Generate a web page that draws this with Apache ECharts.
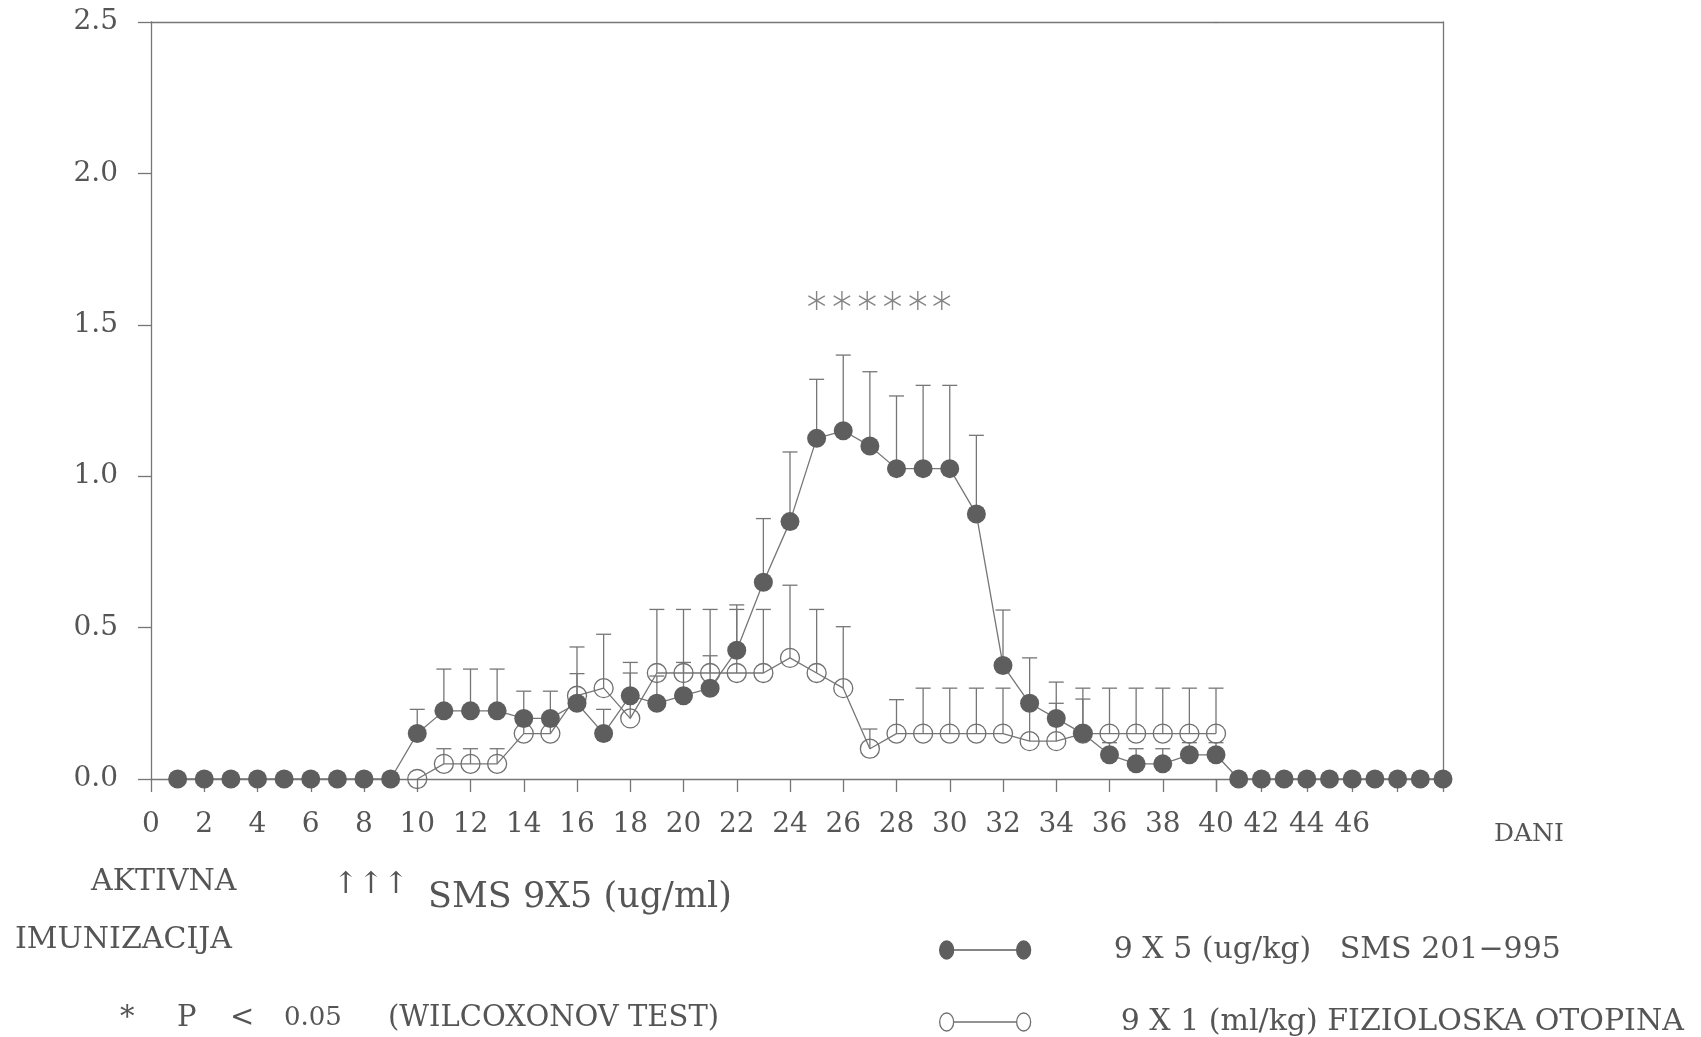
<!DOCTYPE html>
<html><head><meta charset="utf-8">
<script src="https://cdn.jsdelivr.net/npm/echarts@6/dist/echarts.min.js"></script>
<style>html,body{margin:0;padding:0;background:#fff}#c{width:1701px;height:1037px}</style>
</head><body><div id="c"></div>
<script>
// ---- data ----
const smsDays = [1,2,3,4,5,6,7,8,9,10,11,12,13,14,15,16,17,18,19,20,21,22,23,24,25,26,27,28,29,30,31,32,33,34,35,36,37,38,39,40,41,42,43,44,45,46,47,48,49,50];
const smsMean = [0,0,0,0,0,0,0,0,0,0.15,0.225,0.225,0.225,0.2,0.2,0.25,0.15,0.275,0.25,0.275,0.3,0.425,0.65,0.85,1.125,1.15,1.1,1.025,1.025,1.025,0.875,0.375,0.25,0.2,0.15,0.08,0.05,0.05,0.08,0.08,0,0,0,0,0,0,0,0,0,0];
const smsUpper = [null,null,null,null,null,null,null,null,null,0.23,0.363,0.363,0.363,0.29,0.29,0.436,0.23,0.385,0.34,0.385,0.407,0.575,0.86,1.08,1.32,1.40,1.345,1.265,1.30,1.30,1.135,0.558,0.40,0.32,0.264,0.12,0.10,0.10,0.12,0.12,null,null,null,null,null,null,null,null,null,null];
const salDays = [10,11,12,13,14,15,16,17,18,19,20,21,22,23,24,25,26,27,28,29,30,31,32,33,34,35,36,37,38,39,40];
const salMean = [0,0.05,0.05,0.05,0.15,0.15,0.275,0.3,0.2,0.35,0.35,0.35,0.35,0.35,0.4,0.35,0.3,0.1,0.15,0.15,0.15,0.15,0.15,0.125,0.125,0.15,0.15,0.15,0.15,0.15,0.15];
const salUpper = [null,0.1,0.1,0.1,0.2,0.2,0.348,0.478,0.35,0.56,0.56,0.56,0.56,0.56,0.64,0.56,0.503,0.165,0.262,0.30,0.30,0.30,0.30,0.25,0.25,0.30,0.30,0.30,0.30,0.30,0.30];
const starDays = [25,25.95,26.9,27.85,28.8,29.7];
const starLevel = 1.58;
const yTickValues = [0,0.5,1.0,1.5,2.0,2.5];
const smsName = '9 X 5 (ug/kg)   SMS 201\u2212995';
const salName = '9 X 1 (ml/kg) FIZIOLOSKA OTOPINA';

// ---- build series data ----
const FONT = 'DejaVu Serif';
const TXT = '#555';
const LN = '#767676';
const smsA = [], smsB = [], salData = [], errData = [];
smsDays.forEach((d, i) => {
  if (d <= 40) smsA.push([d, smsMean[i]]);
  if (d >= 40) smsB.push([d, smsMean[i]]);
  if (smsUpper[i] != null) errData.push([d, smsMean[i], smsUpper[i]]);
});
salDays.forEach((d, i) => {
  salData.push([d, salMean[i]]);
  if (salUpper[i] != null) errData.push([d, salMean[i], salUpper[i]]);
});

const filledIcon = 'path://M1,9 a7,9 0 1,0 14,0 a7,9 0 1,0 -14,0 Z M15,9 L78,9 M78,9 a7,9 0 1,0 14,0 a7,9 0 1,0 -14,0 Z';
const starPath = 'path://M10,0 L10,20 M1.34,5 L18.66,15 M1.34,15 L18.66,5';

const chart = echarts.init(document.getElementById('c'), null, {renderer: 'canvas'});
const axisLineStyle = {color: LN, width: 1.3};
const option = {
  animation: false,
  backgroundColor: '#fff',
  grid: [
    {left: 151, top: 22, width: 1065, height: 757},
    {left: 1216, top: 22, width: 227, height: 757}
  ],
  xAxis: [
    {gridIndex: 0, type: 'value', min: 0, max: 40, interval: 2, position: 'bottom',
     axisLine: {lineStyle: axisLineStyle}, axisTick: {length: 13, lineStyle: axisLineStyle},
     axisLabel: {margin: 32, fontSize: 28, fontFamily: FONT, color: TXT}, splitLine: {show: false}},
    {gridIndex: 1, type: 'value', min: 40, max: 50, interval: 2, position: 'bottom',
     axisLine: {lineStyle: axisLineStyle}, axisTick: {length: 13, lineStyle: axisLineStyle},
     axisLabel: {margin: 32, fontSize: 28, fontFamily: FONT, color: TXT,
       formatter: v => (v >= 42 && v <= 46) ? String(v) : ''}, splitLine: {show: false}},
    {gridIndex: 0, type: 'value', min: 0, max: 40, position: 'top',
     axisLine: {onZero: false, lineStyle: axisLineStyle}, axisTick: {show: false}, axisLabel: {show: false}, splitLine: {show: false}},
    {gridIndex: 1, type: 'value', min: 40, max: 50, position: 'top',
     axisLine: {onZero: false, lineStyle: axisLineStyle}, axisTick: {show: false}, axisLabel: {show: false}, splitLine: {show: false}}
  ],
  yAxis: [
    {gridIndex: 0, type: 'value', min: yTickValues[0], max: yTickValues[yTickValues.length-1], interval: 0.5, position: 'left',
     axisLine: {show: true, onZero: false, lineStyle: axisLineStyle}, axisTick: {show: true, length: 13, lineStyle: axisLineStyle},
     axisLabel: {margin: 33, fontSize: 28, fontFamily: FONT, color: TXT, formatter: v => v.toFixed(1)},
     splitLine: {show: false}},
    {gridIndex: 1, type: 'value', min: 0, max: 2.5, position: 'right',
     axisLine: {show: true, onZero: false, lineStyle: axisLineStyle}, axisTick: {show: false}, axisLabel: {show: false},
     splitLine: {show: false}}
  ],
  legend: [
    {data: [{name: smsName, icon: filledIcon, itemStyle: {color: '#5e5e5e', borderColor: '#5e5e5e', borderWidth: 1.3}}],
     left: 939, top: 935, padding: 0, itemWidth: 93, itemHeight: 18, selectedMode: false,
     textStyle: {fontFamily: FONT, fontSize: 30, color: TXT, padding: [0, 0, 0, 77]}},
    {data: [{name: salName, icon: filledIcon, itemStyle: {color: 'rgba(0,0,0,0)', borderColor: '#707070', borderWidth: 1.3}}],
     left: 939, top: 1007, padding: 0, itemWidth: 93, itemHeight: 18, selectedMode: false,
     textStyle: {fontFamily: FONT, fontSize: 30, color: TXT, padding: [0, 0, 0, 84]}}
  ],
  series: [
    {type: 'custom', name: 'err', xAxisIndex: 0, yAxisIndex: 0, z: 1, clip: false,
     data: errData, encode: {x: 0, y: [1, 2]},
     renderItem: (params, api) => {
       const x = api.value(0);
       const p1 = api.coord([x, api.value(1)]);
       const p2 = api.coord([x, api.value(2)]);
       const st = {stroke: LN, lineWidth: 1.3};
       return {type: 'group', children: [
         {type: 'line', shape: {x1: p1[0], y1: p1[1], x2: p2[0], y2: p2[1]}, style: st},
         {type: 'line', shape: {x1: p2[0] - 7.5, y1: p2[1], x2: p2[0] + 7.5, y2: p2[1]}, style: st}
       ]};
     }},
    {type: 'line', name: salName, xAxisIndex: 0, yAxisIndex: 0, z: 2, clip: false,
     data: salData, symbol: 'circle', symbolSize: 19,
     lineStyle: {color: LN, width: 1.3},
     itemStyle: {color: 'rgba(0,0,0,0)', borderColor: '#707070', borderWidth: 1.3}},
    {type: 'line', name: smsName, xAxisIndex: 0, yAxisIndex: 0, z: 3, clip: false,
     data: smsA, symbol: 'circle', symbolSize: 19,
     lineStyle: {color: LN, width: 1.3},
     itemStyle: {color: '#5e5e5e', borderColor: '#5e5e5e', borderWidth: 0}},
    {type: 'line', name: smsName, xAxisIndex: 1, yAxisIndex: 1, z: 3, clip: false,
     data: smsB, symbol: 'circle', symbolSize: v => (v[0] === 40 ? 0 : 19),
     lineStyle: {color: LN, width: 1.3},
     itemStyle: {color: '#5e5e5e', borderColor: '#5e5e5e', borderWidth: 0}},
    {type: 'scatter', name: 'stars', xAxisIndex: 0, yAxisIndex: 0, z: 4,
     data: starDays.map(d => [d, starLevel]), symbol: starPath, symbolSize: 19, symbolKeepAspect: true,
     itemStyle: {color: 'rgba(0,0,0,0)', borderColor: '#666', borderWidth: 1.4}}
  ],
  graphic: [
    {type: 'text', left: 1494, top: 822, style: {text: 'DANI', font: '25px "DejaVu Serif"', fill: TXT}},
    {type: 'text', left: 91, top: 867, style: {text: 'AKTIVNA', font: '30px "DejaVu Serif"', fill: TXT}},
    {type: 'text', left: 15, top: 925, style: {text: 'IMUNIZACIJA', font: '30px "DejaVu Serif"', fill: TXT}},
    {type: 'text', left: 333, top: 870, style: {text: '\u2191\u2191\u2191', font: '30px "DejaVu Serif"', fill: TXT}},
    {type: 'text', left: 428, top: 880, style: {text: 'SMS 9X5 (ug/ml)', font: '35px "DejaVu Serif"', fill: TXT}},
    {type: 'text', left: 120, top: 1004, style: {text: '*', font: '29px "DejaVu Serif"', fill: TXT}},
    {type: 'text', left: 177, top: 1004, style: {text: 'P', font: '29px "DejaVu Serif"', fill: TXT}},
    {type: 'text', left: 230, top: 1004, style: {text: '<', font: '29px "DejaVu Serif"', fill: TXT}},
    {type: 'text', left: 284, top: 1005, style: {text: '0.05', font: '26px "DejaVu Serif"', fill: TXT}},
    {type: 'text', left: 388, top: 1004, style: {text: '(WILCOXONOV TEST)', font: '29px "DejaVu Serif"', fill: TXT}}
  ]
};
chart.setOption(option);
</script></body></html>
